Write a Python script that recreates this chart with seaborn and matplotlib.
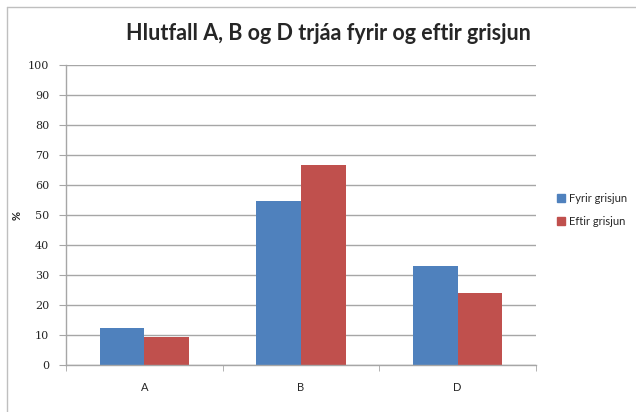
import seaborn as sns
import matplotlib.pyplot as plt
import matplotlib.patches as mpatches
import pandas as pd

categories = ["A", "B", "D"]
fyrir = [12.2, 54.8, 33.1]
eftir = [9.4, 66.8, 24.0]
series_names = ["Fyrir grisjun", "Eftir grisjun"]
yticks = list(range(0, 101, 10))

df = pd.DataFrame({
    "flokkur": categories * 2,
    "gildi": fyrir + eftir,
    "hopur": [series_names[0]] * 3 + [series_names[1]] * 3,
})

sns.set_style("white")
plt.rcParams["font.family"] = ["Lato", "DejaVu Sans"]

fig = plt.figure(figsize=(6.36, 4.12), dpi=100)
ax = fig.add_axes([66 / 636, 47 / 412, 470 / 636, 300 / 412])

sns.barplot(
    data=df, x="flokkur", y="gildi", hue="hopur",
    palette=["#4F81BD", "#C0504D"], width=0.57, gap=0,
    saturation=1, ax=ax, legend=False, linewidth=0,
)

ax.set_ylim(0, 100)
ax.set_xlim(-0.5, 2.5)
ax.set_yticks(yticks)
ax.set_yticklabels([str(t) for t in yticks], fontfamily="DejaVu Serif", fontsize=8)
ax.yaxis.grid(True, color="#a6a6a6", linewidth=1)
ax.set_axisbelow(True)
ax.tick_params(axis="y", length=5, color="#a6a6a6", pad=7, left=True)
ax.tick_params(axis="x", which="major", length=0, pad=12, labelsize=8)
ax.set_xticks([-0.5, 0.5, 1.5, 2.5], minor=True)
ax.tick_params(axis="x", which="minor", length=4, color="#a6a6a6", bottom=True)
ax.set_xlabel("")
ax.set_ylabel("")

for side in ["top", "right"]:
    ax.spines[side].set_visible(False)
for side in ["left", "bottom"]:
    ax.spines[side].set_color("#a6a6a6")
    ax.spines[side].set_linewidth(1)

fig.text(17 / 636, 1 - 215 / 412, "%", rotation=90, ha="center", va="center",
         fontsize=8, fontweight="bold")

fig.text(328 / 636, 1 - 33 / 412, "Hlutfall A, B og D trjáa fyrir og eftir grisjun",
         ha="center", va="center", fontsize=15.5, fontweight="bold")

handles = [mpatches.Patch(color=c, label=n) for c, n in zip(["#4F81BD", "#C0504D"], series_names)]
fig.legend(handles=handles, loc="center left", bbox_to_anchor=(553 / 636, 1 - 210 / 412),
           frameon=False, fontsize=8, handlelength=0.7, handleheight=0.7,
           handletextpad=0.3, labelspacing=1.1, borderaxespad=0)

# outer chart frame (left/top edges visible in the picture)
fig.add_artist(plt.Line2D([7 / 636, 7 / 636], [0, 1 - 7 / 412], color="#bfbfbf", lw=1, transform=fig.transFigure))
fig.add_artist(plt.Line2D([7 / 636, 1], [1 - 7 / 412, 1 - 7 / 412], color="#bfbfbf", lw=1, transform=fig.transFigure))

fig.savefig("out.png", dpi=100)
